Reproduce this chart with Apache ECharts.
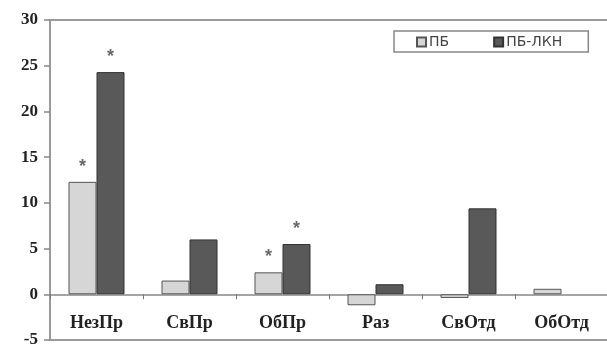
<!DOCTYPE html>
<html><head><meta charset="utf-8">
<script src="https://cdn.jsdelivr.net/npm/echarts@6/dist/echarts.min.js"></script>
<style>html,body{margin:0;padding:0;background:#fff}#c{width:607px;height:351px}</style>
</head><body><div id="c"></div>
<script>
const categories = ['НезПр', 'СвПр', 'ОбПр', 'Раз', 'СвОтд', 'ОбОтд'];
const seriesNames = ['ПБ', 'ПБ-ЛКН'];
const pbValues = [12.3, 1.5, 2.4, -1.2, -0.4, 0.6];
const pbLknValues = [24.3, 6.0, 5.5, 1.1, 9.4, 0];
const pbSignificant = [true, false, true, false, false, false];
const pbLknSignificant = [true, false, true, false, false, false];
const yTicks = [-5, 0, 5, 10, 15, 20, 25, 30];

const chart = echarts.init(document.getElementById('c'), null, {renderer: 'canvas'});
function mk(vals, sig) {
  return vals.map((v, i) => {
    const d = {value: v, label: {show: sig[i]}};
    if (v === 0) d.itemStyle = {borderWidth: 0};
    return d;
  });
}
const starLabel = {
  position: 'top', formatter: '*', distance: 10,
  fontFamily: 'Liberation Sans', fontSize: 18, fontWeight: 'bold', color: '#6a6a6a',
  offset: [0, 4]
};
chart.setOption({
  animation: false,
  grid: {left: 50, right: -1, top: 20, bottom: 11, show: true, borderColor: '#9a9a9a', borderWidth: 2,
    containLabel: false, outerBoundsMode: 'none'},
  legend: {
    data: seriesNames, left: 394, top: 31, orient: 'horizontal',
    icon: 'rect', itemWidth: 9, itemHeight: 9, itemGap: 44,
    padding: [4, 26, 3, 22],
    borderColor: '#888', borderWidth: 1.5, borderRadius: 0,
    textStyle: {fontFamily: 'DejaVu Sans', fontSize: 14, color: '#444', padding: [0, 0, 0, -2]}
  },
  xAxis: [{
    type: 'category', data: categories,
    axisLine: {onZero: true, lineStyle: {color: '#888', width: 1.5}},
    axisTick: {show: true, length: 5, lineStyle: {color: '#777'}},
    axisLabel: {show: false}
  }, {
    type: 'category', data: categories, position: 'bottom',
    axisLine: {show: false, onZero: false}, axisTick: {show: false},
    axisLabel: {margin: -26, fontFamily: 'Liberation Serif', fontWeight: 'bold', fontSize: 18, color: '#222'}
  }],
  yAxis: {
    type: 'value', min: -5, max: 30, interval: 5,
    splitLine: {show: false},
    axisLine: {show: true, lineStyle: {color: '#9a9a9a', width: 2}},
    axisTick: {show: true, length: 6, lineStyle: {color: '#888', width: 1.5}},
    axisLabel: {margin: 12, fontFamily: 'Liberation Serif', fontWeight: 'bold', fontSize: 17, color: '#222',
      formatter: v => yTicks.includes(v) ? String(v) : ''}
  },
  series: [
    {name: seriesNames[0], type: 'bar', barWidth: 28, barGap: '0%', data: mk(pbValues, pbSignificant),
      itemStyle: {color: '#d6d6d6', borderColor: '#555', borderWidth: 1}, label: starLabel},
    {name: seriesNames[1], type: 'bar', barWidth: 28, data: mk(pbLknValues, pbLknSignificant),
      itemStyle: {color: '#595959', borderColor: '#333', borderWidth: 1}, label: starLabel}
  ]
});
</script></body></html>
